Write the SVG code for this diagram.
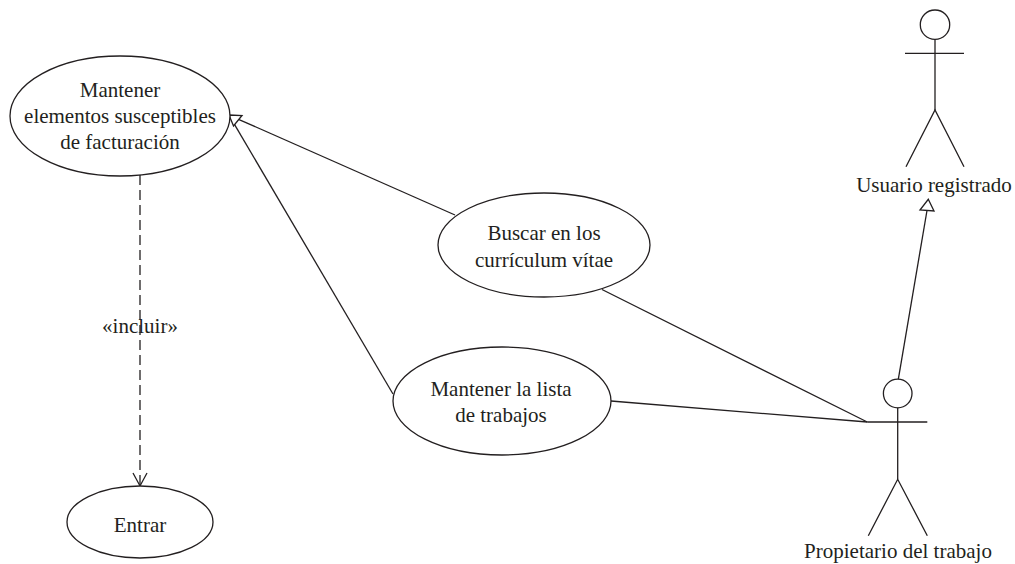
<svg xmlns="http://www.w3.org/2000/svg" width="1015" height="564" viewBox="0 0 1015 564">
<style>
  .uc { fill: #ffffff; stroke: #231f20; stroke-width: 1.3; }
  .ln { fill: none; stroke: #231f20; stroke-width: 1.3; }
  .hd { fill: #ffffff; stroke: #231f20; stroke-width: 1.3; }
  .dash { fill: none; stroke: #231f20; stroke-width: 1.3; stroke-dasharray: 10 5; }
  text { font-family: "Liberation Serif", "Times New Roman", serif; font-size: 21px; fill: #231f20; text-anchor: middle; }
</style>
<rect width="1015" height="564" fill="#ffffff"/>

<g id="connectors">
  <line class="ln" x1="455" y1="215" x2="238.5" y2="119.3"/>
  <line class="ln" x1="393" y1="394" x2="234.6" y2="124.6"/>
  <polygon class="hd" points="229,115 242,115.5 233.5,126"/>
  <line class="ln" x1="602" y1="289.5" x2="867.3" y2="422"/>
  <line class="ln" x1="611" y1="401" x2="867.3" y2="422"/>
  <line class="ln" x1="898.3" y1="379.3" x2="927" y2="210.5"/>
  <polygon class="hd" points="928.3,199.3 934,211 920,210"/>
  <line class="dash" x1="140" y1="175" x2="140" y2="485"/>
  <polyline class="ln" points="133,473 140,486 147,473"/>
  <text x="140" y="333">«incluir»</text>
</g>

<g id="uc-mantener-elementos">
  <ellipse class="uc" cx="120" cy="116" rx="110" ry="60"/>
  <text x="120" y="97">Mantener</text>
  <text x="120" y="123">elementos susceptibles</text>
  <text x="120" y="149">de facturación</text>
</g>

<g id="uc-buscar">
  <ellipse class="uc" cx="544" cy="245" rx="106" ry="52"/>
  <text x="544" y="240">Buscar en los</text>
  <text x="544" y="267">currículum vítae</text>
</g>

<g id="uc-mantener-lista">
  <ellipse class="uc" cx="502" cy="401" rx="109" ry="54"/>
  <text x="501" y="396">Mantener la lista</text>
  <text x="501" y="422">de trabajos</text>
</g>

<g id="uc-entrar">
  <ellipse class="uc" cx="140" cy="522" rx="73" ry="36"/>
  <text x="140" y="532">Entrar</text>
</g>

<g id="actor-usuario">
  <circle class="hd" cx="935" cy="24.7" r="14.7"/>
  <line class="ln" x1="935" y1="39.4" x2="935" y2="110"/>
  <line class="ln" x1="905" y1="53.3" x2="964" y2="53.3"/>
  <polyline class="ln" points="906,166.7 935,110 964,166.7"/>
  <text x="934" y="192">Usuario registrado</text>
</g>

<g id="actor-propietario">
  <circle class="hd" cx="897.7" cy="393.5" r="14.3"/>
  <line class="ln" x1="897.7" y1="407.8" x2="897.7" y2="479.3"/>
  <line class="ln" x1="867.3" y1="422" x2="927.3" y2="422"/>
  <polyline class="ln" points="868.3,535.7 897.7,479.3 927.3,535.7"/>
  <text x="898" y="558">Propietario del trabajo</text>
</g>
</svg>
